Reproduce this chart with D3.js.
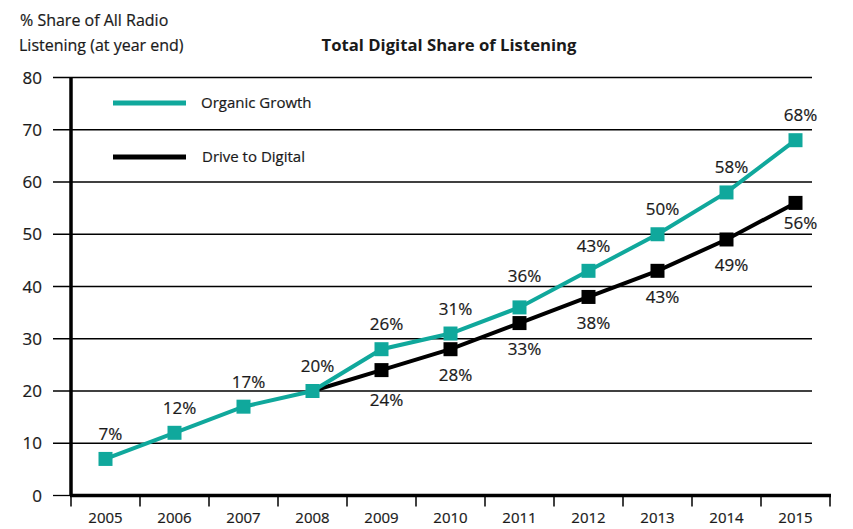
<!DOCTYPE html>
<html>
<head>
<meta charset="utf-8">
<script src="https://cdn.jsdelivr.net/npm/d3@7/dist/d3.min.js"></script>
<style>
  body { margin: 0; background: #fff; }
  svg { display: block; font-family: "Open Sans", Lato, sans-serif; }
  text.t { stroke: #1a1a1a; stroke-width: 0.2px; }
</style>
</head>
<body>
<svg id="chart" width="853" height="529"></svg>
<script>
const years = ["2005","2006","2007","2008","2009","2010","2011","2012","2013","2014","2015"];
const organicValues = [7, 12, 17, 20, 28, 31, 36, 43, 50, 58, 68];
const organicLabels = ["7%","12%","17%","20%","26%","31%","36%","43%","50%","58%","68%"];
const driveYears = ["2008","2009","2010","2011","2012","2013","2014","2015"];
const driveValues = [20, 24, 28, 33, 38, 43, 49, 56];
const driveLabels = ["24%","28%","33%","38%","43%","49%","56%"];
const driveLabelYears = ["2009","2010","2011","2012","2013","2014","2015"];
const yTicks = [0, 10, 20, 30, 40, 50, 60, 70, 80];

const teal = "#10a89c";
const ink = "#1a1a1a";
const svg = d3.select("#chart");

const x = d3.scaleBand().domain(years).range([71, 830]);
const y = d3.scaleLinear().domain([0, 80]).range([495.5, 77.5]);
const cx = d => x(d) + x.bandwidth() / 2;
const gridYs = yTicks.map(t => y(t));

// keep a label's text box off the gridlines
function clearBaseline(b) {
  for (const g of gridYs) {
    const top = b - 13, bot = b + 3;
    if (g >= top && g <= bot) {
      b = (g - top < bot - g) ? g + 15 : g - 5;
    }
  }
  return b;
}

// gridlines
svg.append("g").selectAll("line").data(yTicks.filter(t => t > 0)).join("line")
  .attr("x1", 53).attr("x2", 812)
  .attr("y1", d => y(d)).attr("y2", d => y(d))
  .attr("stroke", "#000").attr("stroke-width", 1.3);
svg.append("line").attr("x1", 53).attr("x2", 71).attr("y1", y(0)).attr("y2", y(0))
  .attr("stroke", "#000").attr("stroke-width", 1.3);

// y tick labels
svg.append("g").selectAll("text").data(yTicks).join("text").attr("class", "t")
  .attr("x", 42).attr("y", d => y(d)).attr("dy", "0.36em")
  .attr("text-anchor", "end").attr("font-size", 17).attr("fill", ink)
  .text(d => d);

// x axis
const xAxis = d3.axisBottom(x).tickSize(0).tickPadding(12);
const gx = svg.append("g").attr("transform", `translate(0,${y(0)})`).call(xAxis);
gx.select(".domain").remove();
gx.selectAll("text").attr("class", "t").attr("font-size", 15).attr("fill", ink)
  .attr("font-family", "'Open Sans', Lato, sans-serif").attr("dy", "1.0em");
const bounds = years.map(d => x(d)).concat([x(years[years.length-1]) + x.bandwidth()]);
svg.append("g").selectAll("line").data(bounds).join("line")
  .attr("x1", d => d).attr("x2", d => d)
  .attr("y1", y(0)).attr("y2", y(0) + 11)
  .attr("stroke", "#000").attr("stroke-width", 1.5);
svg.append("line").attr("x1", 70).attr("x2", 831).attr("y1", y(0)).attr("y2", y(0))
  .attr("stroke", "#000").attr("stroke-width", 3.5);
svg.append("line").attr("x1", 71).attr("x2", 71).attr("y1", y(80)).attr("y2", y(0))
  .attr("stroke", "#000").attr("stroke-width", 3.5);

// lines
const line = d3.line().x(d => cx(d[0])).y(d => y(d[1]));
const drive = driveYears.map((d, i) => [d, driveValues[i]]);
const organic = years.map((d, i) => [d, organicValues[i]]);
svg.append("path").datum(drive).attr("d", line).attr("fill", "none")
  .attr("stroke", "#000").attr("stroke-width", 4);
svg.append("g").selectAll("rect").data(drive.slice(1)).join("rect")
  .attr("x", d => cx(d[0]) - 7).attr("y", d => y(d[1]) - 7)
  .attr("width", 14).attr("height", 14).attr("fill", "#000");
svg.append("path").datum(organic).attr("d", line).attr("fill", "none")
  .attr("stroke", teal).attr("stroke-width", 4);
svg.append("g").selectAll("rect").data(organic).join("rect")
  .attr("x", d => cx(d[0]) - 7).attr("y", d => y(d[1]) - 7)
  .attr("width", 14).attr("height", 14).attr("fill", teal);

// data labels
svg.append("g").selectAll("text").data(years).join("text").attr("class", "t")
  .attr("x", d => cx(d) + 5).attr("y", (d, i) => clearBaseline(y(organicValues[i]) - 19))
  .attr("text-anchor", "middle").attr("font-size", 17).attr("fill", ink)
  .text((d, i) => organicLabels[i]);
svg.append("g").selectAll("text").data(driveLabelYears).join("text").attr("class", "t")
  .attr("x", d => cx(d) + 5).attr("y", (d, i) => clearBaseline(y(driveValues[i + 1]) + 32))
  .attr("text-anchor", "middle").attr("font-size", 17).attr("fill", ink)
  .text((d, i) => driveLabels[i]);

// legend
svg.append("line").attr("x1", 113).attr("x2", 186).attr("y1", 103).attr("y2", 103)
  .attr("stroke", teal).attr("stroke-width", 5);
svg.append("text").attr("class", "t").attr("x", 201).attr("y", 103).attr("dy", "0.36em")
  .attr("font-size", 15).attr("fill", ink).text("Organic Growth");
svg.append("line").attr("x1", 113).attr("x2", 186).attr("y1", 157).attr("y2", 157)
  .attr("stroke", "#000").attr("stroke-width", 5);
svg.append("text").attr("class", "t").attr("x", 202).attr("y", 157).attr("dy", "0.36em")
  .attr("font-size", 15).attr("fill", ink).text("Drive to Digital");

// titles
svg.append("text").attr("class", "t").attr("x", 20).attr("y", 26).attr("font-size", 16).attr("fill", ink)
  .text("% Share of All Radio");
svg.append("text").attr("class", "t").attr("x", 19).attr("y", 51).attr("font-size", 16).attr("fill", ink)
  .text("Listening (at year end)");
svg.append("text").attr("x", 449).attr("y", 51).attr("text-anchor", "middle")
  .attr("font-size", 16.7).attr("font-weight", "bold").attr("fill", ink)
  .text("Total Digital Share of Listening");
</script>
</body>
</html>
